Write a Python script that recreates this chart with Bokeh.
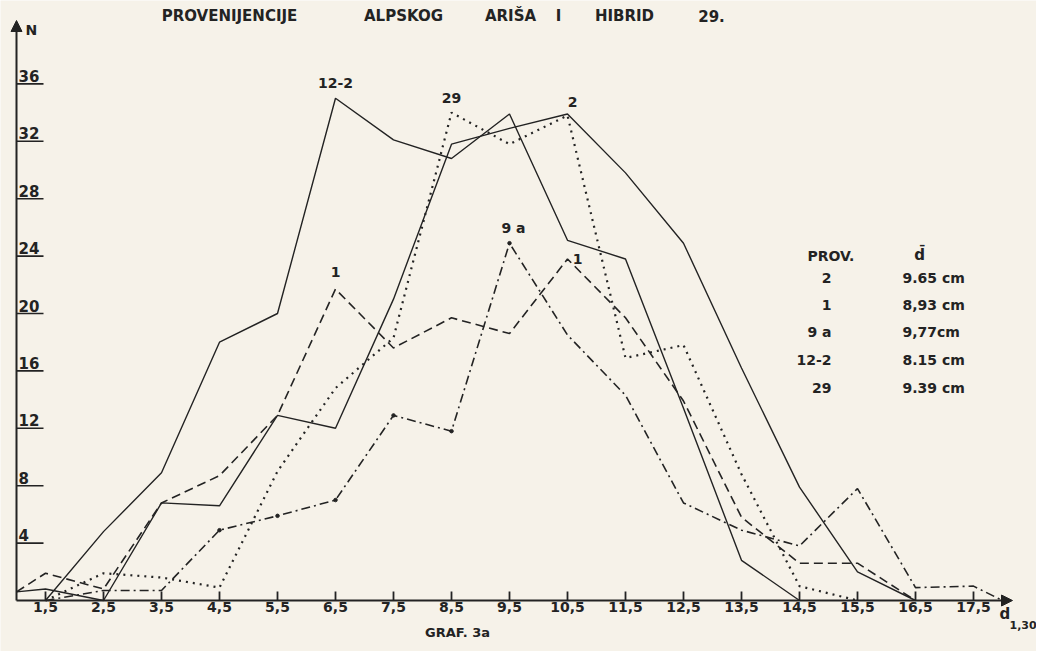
from bokeh.plotting import figure
from bokeh.models import Range1d, Arrow, NormalHead, ColumnDataSource
from bokeh.core.properties import value
from bokeh.embed import file_html
from bokeh.resources import INLINE

# ---------------- data ----------------
D_12_2 = [1.5, 2.5, 3.5, 4.5, 5.5, 6.5, 7.5, 8.5, 9.5, 10.5, 11.5, 12.5, 13.5, 14.5]
N_12_2 = [0, 4.8, 8.9, 18.0, 20.0, 35.0, 32.1, 30.8, 33.9, 25.1, 23.8, 13.4, 2.8, 0]

D_2 = [1.0, 1.5, 2.5, 3.5, 4.5, 5.5, 6.5, 7.5, 8.5, 9.5, 10.5, 11.5, 12.5, 13.5, 14.5, 15.5, 16.5]
N_2 = [0.6, 0.8, 0, 6.8, 6.6, 12.9, 12.0, 21.0, 31.8, 32.9, 33.9, 29.8, 24.9, 16.2, 7.9, 2.0, 0]

D_29 = [1.5, 2.5, 3.5, 4.5, 5.5, 6.5, 7.5, 8.5, 9.5, 10.5, 11.5, 12.5, 13.5, 14.5, 15.5]
N_29 = [0, 1.9, 1.6, 0.9, 9.0, 14.8, 18.3, 34.0, 31.8, 33.8, 16.9, 17.8, 8.8, 1.0, 0]

D_1 = [1.0, 1.5, 2.5, 3.5, 4.5, 5.5, 6.5, 7.5, 8.5, 9.5, 10.5, 11.5, 12.5, 13.5, 14.5, 15.5, 16.5]
N_1 = [0.6, 1.9, 0.8, 6.8, 8.7, 12.9, 21.7, 17.6, 19.7, 18.6, 23.8, 19.7, 13.9, 5.8, 2.6, 2.6, 0]

D_9A = [1.5, 2.5, 3.5, 4.5, 5.5, 6.5, 7.5, 8.5, 9.5, 10.5, 11.5, 12.5, 13.5, 14.5, 15.5, 16.5, 17.5, 18.0]
N_9A = [0, 0.7, 0.7, 4.9, 5.9, 7.0, 12.9, 11.8, 24.9, 18.5, 14.3, 6.8, 4.9, 3.8, 7.8, 0.9, 1.0, 0]

X_TICKS = [1.5, 2.5, 3.5, 4.5, 5.5, 6.5, 7.5, 8.5, 9.5, 10.5, 11.5, 12.5, 13.5, 14.5, 15.5, 16.5, 17.5]
X_TICK_LABELS = ["1,5", "2,5", "3,5", "4,5", "5,5", "6,5", "7,5", "8,5", "9,5", "10,5",
                 "11,5", "12,5", "13,5", "14,5", "15,5", "16,5", "17,5"]
Y_TICKS = [4, 8, 12, 16, 20, 24, 28, 32, 36]

PROV_NAMES = ["2", "1", "9 a", "12-2", "29"]
PROV_MEANS = ["9.65 cm", "8,93 cm", "9,77cm", "8.15 cm", "9.39 cm"]

TITLE_WORDS = ["PROVENIJENCIJE", "ALPSKOG", "ARIŠA", "I", "HIBRID", "29."]

# ---------------- layout helpers (picture pixels -> data) ----------------
W, H = 1036, 651

def dx(px):
    return 1.0 + (px - 16) / 58.0

def ny(py):
    return (600 - py) / 14.35

INK = "#232323"
BG = "#f6f2e9"
FONT = value("DejaVu Sans")

p = figure(width=W, height=H, output_backend="svg", toolbar_location=None,
           x_axis_type=None, y_axis_type=None,
           x_range=Range1d(dx(0), dx(W)), y_range=Range1d(ny(H), ny(0)),
           min_border=0)
p.outline_line_color = None
p.background_fill_color = BG
p.border_fill_color = BG

# ---------------- series ----------------
p.line(D_12_2, N_12_2, line_color=INK, line_width=1.4)
p.line(D_2, N_2, line_color=INK, line_width=1.4)
p.line(D_29, N_29, line_color=INK, line_width=2.2, line_dash="2 5")
p.line(D_1, N_1, line_color=INK, line_width=1.6, line_dash="9 5")
p.line(D_9A, N_9A, line_color=INK, line_width=1.6, line_dash="9 4 2 4")
p.scatter(D_9A[3:9], N_9A[3:9], size=3.5, color=INK)

# ---------------- peak labels ----------------
series = {"12-2": (D_12_2, N_12_2), "29": (D_29, N_29), "2": (D_2, N_2),
          "9a": (D_9A, N_9A), "1": (D_1, N_1)}
peaks = [("12-2", "12-2", 6.5, 0, -15), ("29", "29", 8.5, 0, -15), ("2", "2", 10.5, 5, -12),
         ("9 a", "9a", 9.5, 4, -15), ("1", "1", 6.5, 0, -17), ("1", "1", 10.5, 10, 0)]
lab = dict(text=[], x=[], y=[], xo=[], yo=[])
for txt, key, d, xo, yo in peaks:
    xs, ys = series[key]
    lab["text"].append(txt)
    lab["x"].append(d)
    lab["y"].append(ys[xs.index(d)])
    lab["xo"].append(xo)
    lab["yo"].append(yo)
p.text(x="x", y="y", text="text", x_offset="xo", y_offset="yo", source=ColumnDataSource(lab),
       text_font=FONT, text_font_style="bold", text_font_size="14px", text_color=INK,
       text_align="center", text_baseline="middle")

# ---------------- axes ----------------
p.add_layout(Arrow(end=NormalHead(size=11, fill_color=INK, line_color=INK),
                   x_start=1.0, y_start=0, x_end=1.0, y_end=ny(20),
                   line_color=INK, line_width=2))
p.add_layout(Arrow(end=NormalHead(size=11, fill_color=INK, line_color=INK),
                   x_start=1.0, y_start=0, x_end=dx(1012), y_end=0,
                   line_color=INK, line_width=2))

# y ticks: short lines to the right of the axis, labels above them
p.segment(x0=[1.0] * len(Y_TICKS), x1=[dx(43)] * len(Y_TICKS), y0=Y_TICKS, y1=Y_TICKS,
          line_color=INK, line_width=1.6)
p.text(x=[dx(18)] * len(Y_TICKS), y=Y_TICKS, text=[str(t) for t in Y_TICKS], y_offset=-2,
       text_font=FONT, text_font_style="bold", text_font_size="15px", text_color=INK,
       text_align="left", text_baseline="bottom")

# x ticks: pointing up from the axis, labels below
p.segment(x0=X_TICKS, x1=X_TICKS, y0=[0] * len(X_TICKS), y1=[ny(591)] * len(X_TICKS),
          line_color=INK, line_width=1.8)
p.text(x=X_TICKS, y=[0] * len(X_TICKS), text=X_TICK_LABELS, y_offset=1,
       text_font=FONT, text_font_style="bold", text_font_size="14px", text_color=INK,
       text_align="center", text_baseline="top")

# axis names
p.text(x=[dx(25)], y=[ny(29)], text=["N"], text_font=FONT, text_font_style="bold",
       text_font_size="14px", text_color=INK, text_align="left", text_baseline="middle")
p.text(x=[dx(999)], y=[ny(613)], text=["d"], text_font=FONT, text_font_style="bold",
       text_font_size="15px", text_color=INK, text_align="left", text_baseline="middle")
p.text(x=[dx(1009)], y=[ny(624)], text=["1,30"], text_font=FONT, text_font_style="bold",
       text_font_size="11px", text_color=INK, text_align="left", text_baseline="middle")
p.text(x=[dx(457)], y=[ny(632)], text=["GRAF. 3a"], text_font=FONT, text_font_style="bold",
       text_font_size="13px", text_color=INK, text_align="center", text_baseline="middle")

# title words
title_centers = [229, 403, 510, 558, 624, 711]
p.text(x=[dx(c) for c in title_centers], y=[ny(15)] * len(TITLE_WORDS), text=TITLE_WORDS,
       text_font=FONT, text_font_style="bold", text_font_size="15px", text_color=INK,
       text_align="center", text_baseline="middle")

# provenance table
row_y = [277, 304, 331, 359, 387]
p.text(x=[dx(807)], y=[ny(255)], text=["PROV."], text_font=FONT, text_font_style="bold",
       text_font_size="14px", text_color=INK, text_align="left", text_baseline="middle")
p.text(x=[dx(919)], y=[ny(254)], text=["d\u0304"], text_font=FONT, text_font_style="bold",
       text_font_size="15px", text_color=INK, text_align="center", text_baseline="middle")
p.text(x=[dx(831)] * len(PROV_NAMES), y=[ny(v) for v in row_y], text=PROV_NAMES,
       text_font=FONT, text_font_style="bold", text_font_size="14px", text_color=INK,
       text_align="right", text_baseline="middle")
p.text(x=[dx(902)] * len(PROV_MEANS), y=[ny(v) for v in row_y], text=PROV_MEANS,
       text_font=FONT, text_font_style="bold", text_font_size="14px", text_color=INK,
       text_align="left", text_baseline="middle")

open("out.html", "w").write(file_html(p, INLINE))
